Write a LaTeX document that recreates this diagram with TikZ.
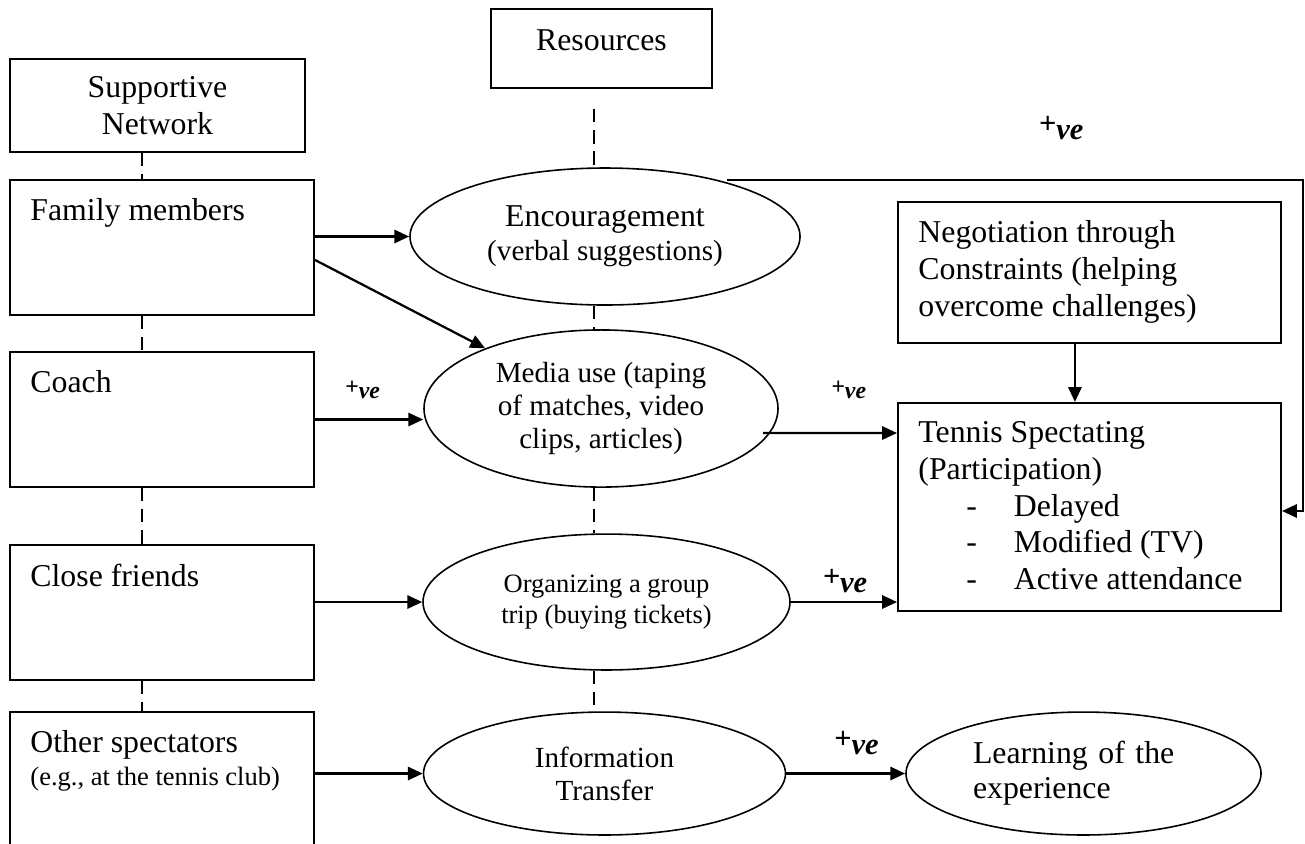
\documentclass[tikz,border=0pt]{standalone}
\usepackage{fontspec}
\setmainfont{Liberation Serif}
\usepackage{tikz}
\usetikzlibrary{shapes.geometric}
\usetikzlibrary{arrows.meta}
\usetikzlibrary{calc}
\tikzstyle{acteur}=[draw,rectangle,line width=0.8pt,minimum width=114.7pt,minimum height=50.9pt,inner sep=0pt]
\tikzstyle{cadre}=[draw,rectangle,line width=0.8pt,inner sep=0pt,align=center,font=\fontsize{12}{13.8}\selectfont]
\tikzstyle{coin}=[anchor=north west,inner sep=0pt,align=left,xshift=7.9pt,yshift=-7.3pt,font=\fontsize{12}{13.8}\selectfont]
\tikzstyle{haut}=[anchor=north,inner sep=0pt,yshift=-7.9pt,font=\fontsize{12}{13.8}\selectfont]
\tikzstyle{ressource}=[draw,ellipse,line width=0.6pt,inner sep=0pt,align=center]
\tikzstyle{suite}=[->,>={Triangle[length=5.6pt,width=5pt]},line width=0.85pt]
\tikzstyle{lien}=[dash pattern=on 5pt off 3pt,line width=1pt]
\tikzstyle{plus}=[inner sep=0pt,font=\fontsize{11.5}{12}\bfseries\itshape]
\tikzstyle{petitplus}=[inner sep=0pt,font=\fontsize{9}{10}\bfseries\itshape]
\newcommand{\pve}{+\raisebox{-0.4ex}{ve}}

\begin{document}
\begin{tikzpicture}[x=0.3774pt,y=-0.3774pt]
\useasboundingbox (0,0) rectangle (1305,843);
\coordinate (gauche) at (142,0);
\coordinate (axe) at (594,0);
\coordinate (coinhaut) at (1303,180);
\node[cadre,minimum width=111.3pt,minimum height=35.1pt] (reseau) at (157.5,105.5) {Supportive\\Network};
\node[acteur,label={[coin]north west:Family members}] (famille) at (162,247.5) {};
\node[acteur,label={[coin]north west:Coach}] (coach) at (162,419.5) {};
\node[acteur,label={[coin]north west:Close friends}] (amis) at (162,612.5) {};
\node[acteur,label={[coin]north west:{Other spectators\\[-1.5pt]{\fontsize{10}{12}\selectfont (e.g., at the tennis club)}}}] (autres) at (162,779.5) {};
\node[cadre,minimum width=83.4pt,minimum height=29.8pt,label={[haut]north:Resources}] (ressources) at (601.5,48.5) {};
\node[ressource,minimum width=147.2pt,minimum height=51.7pt,font=\fontsize{12}{13.8}\selectfont] (encour) at (605,236.5) {Encouragement\\[-1pt]{\fontsize{11}{12.8}\selectfont (verbal suggestions)}};
\node[ressource,minimum width=133.6pt,minimum height=59.3pt,font=\fontsize{11}{12.5}\selectfont] (media) at (601,408.5) {Media use (taping\\of matches, video\\clips, articles)};
\node[ressource,minimum width=138.5pt,minimum height=51.3pt,font=\fontsize{10}{12}\selectfont] (groupe) at (606.5,602) {Organizing a group\\trip (buying tickets)};
\node[ressource,minimum width=136.6pt,minimum height=46.4pt,font=\fontsize{11}{12.4}\selectfont] (info) at (604.5,773.5) {Information\\Transfer};
\node[ressource,minimum width=134pt,minimum height=46.4pt,text width=83.4pt,align=left,font=\fontsize{12}{13.2}\selectfont] (appris) at (1083.5,773.5) {Learning of the\\experience};
\node[cadre,minimum width=144.5pt,minimum height=53.2pt,label={[coin]north west:{Negotiation through\\Constraints (helping\\overcome challenges)}}] (nego) at (1089.5,272.5) {};
\node[cadre,minimum width=144.5pt,minimum height=78.5pt,label={[coin]north west:{Tennis Spectating\\(Participation)\\\hspace*{18.1pt}\makebox[17.9pt][l]{-}Delayed\\\hspace*{18.1pt}\makebox[17.9pt][l]{-}Modified (TV)\\\hspace*{18.1pt}\makebox[17.9pt][l]{-}Active attendance}}] (tennis) at (1089.5,507) {};
%Drawing Edges
\draw[lien] (reseau.south -| gauche) -- (famille.north -| gauche);
\draw[lien] (famille.south -| gauche) -- (coach.north -| gauche);
\draw[lien] (coach.south -| gauche) -- (amis.north -| gauche);
\draw[lien] (amis.south -| gauche) -- (autres.north -| gauche);
\draw[lien] ($(ressources.south -| axe)+(0,20)$) -- (encour.north -| axe);
\draw[lien] (encour.south -| axe) -- (media.north -| axe);
\draw[lien] (media.south -| axe) -- (groupe.north -| axe);
\draw[lien] (groupe.south -| axe) -- (info.north -| axe);
\draw[suite] (famille.east |- encour.west) -- (encour.west);
\draw[suite] ([yshift=-4.7pt]famille.east) -- (media);
\draw[suite] (coach.east) -- (coach.east -| media.west) node[petitplus,pos=0.44,yshift=11.1pt]{\pve};
\draw[suite] (amis.east |- groupe.west) -- (groupe.west);
\draw[suite] (autres.east |- info.west) -- (info.west);
\draw[suite] ($(media.center)+(162,24.5)$) -- ($(tennis.west)+(0,-74)$) node[petitplus,pos=0.64,yshift=16.2pt]{\pve};
\draw[suite] (groupe.east) -- (groupe.east -| tennis.west) node[plus,pos=0.51,yshift=7.9pt]{\pve};
\draw[suite] (info.east) -- (appris.west) node[plus,pos=0.59,yshift=11.5pt]{\pve};
\draw[suite] ([xshift=-5.5pt]nego.south) -- ([xshift=-5.5pt]tennis.north);
\draw[suite] ($(encour.center)+(122,-56.5)$) -- (coinhaut) node[plus,pos=0.58,yshift=19.6pt]{\pve} |- ([yshift=-1.5pt]tennis.east);
\end{tikzpicture}
\end{document}
